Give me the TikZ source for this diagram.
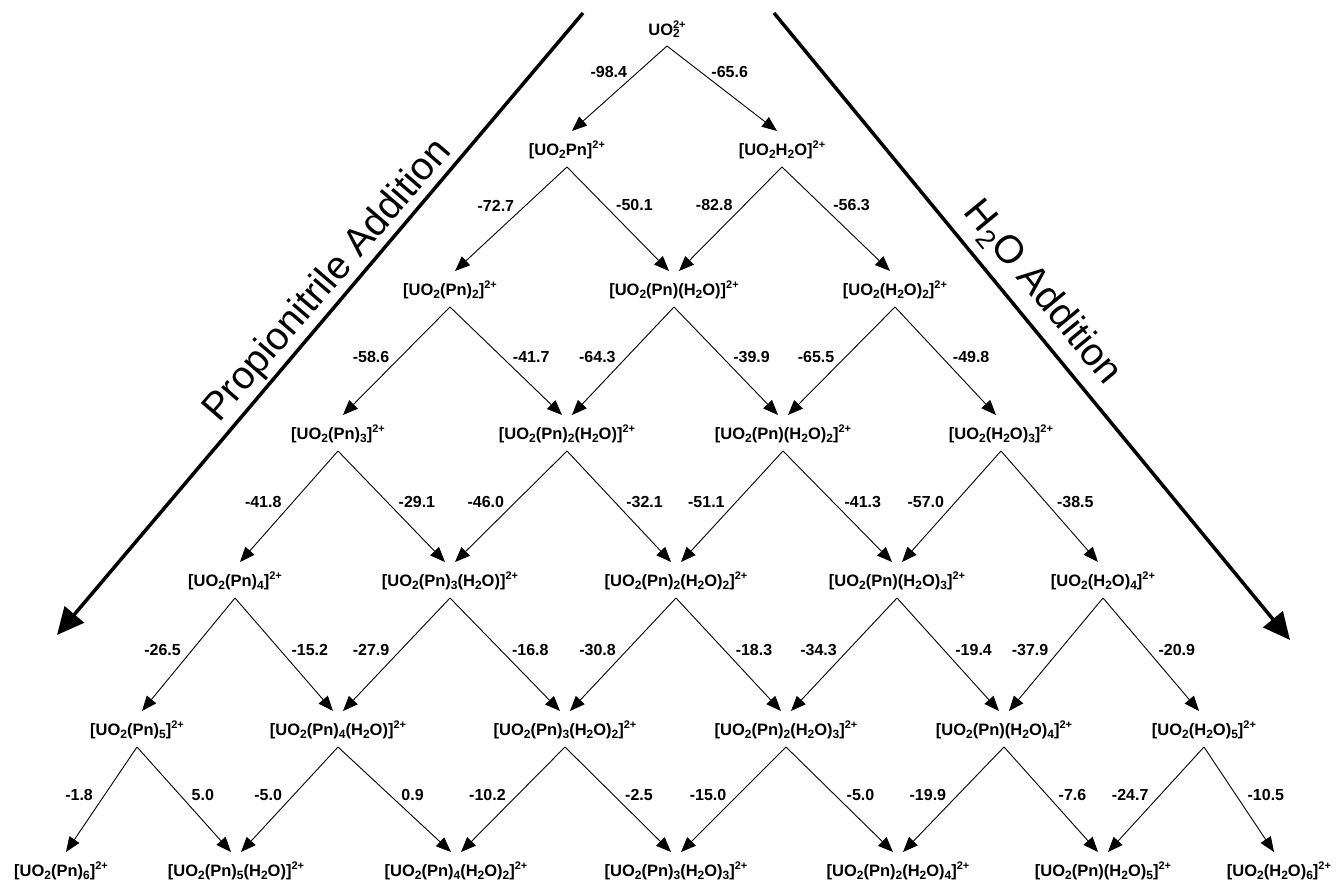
\documentclass[tikz,border=0pt]{standalone}
\usepackage{fontspec}
\setmainfont{Liberation Sans}
\usetikzlibrary{arrows.meta,calc}
\newcommand\sbs[1]{\raisebox{-0.3ex}{\fontsize{12}{13}\selectfont #1}}
\newcommand\sps[1]{\raisebox{0.8ex}{\fontsize{11}{12}\selectfont #1}}
\newcommand\cpd[1]{[UO\sbs{2}#1]\sps{2+}}
\newcommand\bigsub[1]{\raisebox{-0.35ex}{\fontsize{27}{30}\selectfont #1}}
\newcommand\edgeL[4]{\draw[rx] ($(#1)+(0,-17)$) -- node[en, pos=#4, anchor=east, xshift=-11pt] {#3} ($(#2)+(5,19)$);}
\newcommand\edgeR[4]{\draw[rx] ($(#1)+(0,-17)$) -- node[en, pos=#4, anchor=west, xshift=11pt] {#3} ($(#2)+(-5,19)$);}
\begin{document}
\begin{tikzpicture}[x=1pt,y=1pt,
  cmp/.style={font=\fontsize{16.5}{19}\selectfont\bfseries, inner sep=0pt},
  en/.style={font=\fontsize{16}{19}\selectfont\bfseries, inner sep=0pt},
  rx/.style={draw=black, line width=0.9pt, -{Triangle[length=15pt,width=12pt]}},
  big/.style={line width=3.5pt, -{Triangle[length=27pt,width=25pt]}},
  ttl/.style={font=\fontsize{39}{44}\selectfont, inner sep=0pt}]
\fill[white] (0,0) rectangle (1336,-885);
\useasboundingbox (0,0) rectangle (1336,-885);

% big arrows
\coordinate (pa) at (583,-13);
\coordinate (pb) at (57,-635);
\draw[big] (pa) -- (pb);
\coordinate (wa) at (774,-13);
\coordinate (wb) at (1290,-640);
\draw[big] (wa) -- (wb);
\node[ttl, rotate=49.3] (tp) at (328,-281) {Propionitrile Addition};
\node[ttl, rotate=-50.5] (tw) at (1042,-293) {H\bigsub{2}O Addition};

% compounds
\node[cmp] (n00) at (667,-29) {UO\rlap{\sbs{2}}\sps{2+}};
\node[cmp] (n10) at (567,-150) {[UO\sbs{2}Pn]\sps{2+}};
\node[cmp] (n11) at (782,-150) {[UO\sbs{2}H\sbs{2}O]\sps{2+}};
\node[cmp] (n20) at (450,-290) {\cpd{(Pn)\sbs{2}}};
\node[cmp] (n21) at (674,-290) {\cpd{(Pn)(H\sbs{2}O)}};
\node[cmp] (n22) at (895,-290) {\cpd{(H\sbs{2}O)\sbs{2}}};
\node[cmp] (n30) at (338,-434) {\cpd{(Pn)\sbs{3}}};
\node[cmp] (n31) at (567,-434) {\cpd{(Pn)\sbs{2}(H\sbs{2}O)}};
\node[cmp] (n32) at (783,-434) {\cpd{(Pn)(H\sbs{2}O)\sbs{2}}};
\node[cmp] (n33) at (1001,-434) {\cpd{(H\sbs{2}O)\sbs{3}}};
\node[cmp] (n40) at (235,-581) {\cpd{(Pn)\sbs{4}}};
\node[cmp] (n41) at (450,-581) {\cpd{(Pn)\sbs{3}(H\sbs{2}O)}};
\node[cmp] (n42) at (676,-581) {\cpd{(Pn)\sbs{2}(H\sbs{2}O)\sbs{2}}};
\node[cmp] (n43) at (897,-581) {\cpd{(Pn)(H\sbs{2}O)\sbs{3}}};
\node[cmp] (n44) at (1103,-581) {\cpd{(H\sbs{2}O)\sbs{4}}};
\node[cmp] (n50) at (137,-730) {\cpd{(Pn)\sbs{5}}};
\node[cmp] (n51) at (338,-730) {\cpd{(Pn)\sbs{4}(H\sbs{2}O)}};
\node[cmp] (n52) at (565,-730) {\cpd{(Pn)\sbs{3}(H\sbs{2}O)\sbs{2}}};
\node[cmp] (n53) at (786,-730) {\cpd{(Pn)\sbs{2}(H\sbs{2}O)\sbs{3}}};
\node[cmp] (n54) at (1004,-730) {\cpd{(Pn)(H\sbs{2}O)\sbs{4}}};
\node[cmp] (n55) at (1204,-730) {\cpd{(H\sbs{2}O)\sbs{5}}};
\node[cmp] (n60) at (61,-871) {\cpd{(Pn)\sbs{6}}};
\node[cmp] (n61) at (236,-871) {\cpd{(Pn)\sbs{5}(H\sbs{2}O)}};
\node[cmp] (n62) at (456,-871) {\cpd{(Pn)\sbs{4}(H\sbs{2}O)\sbs{2}}};
\node[cmp] (n63) at (676,-871) {\cpd{(Pn)\sbs{3}(H\sbs{2}O)\sbs{3}}};
\node[cmp] (n64) at (898,-871) {\cpd{(Pn)\sbs{2}(H\sbs{2}O)\sbs{4}}};
\node[cmp] (n65) at (1103,-871) {\cpd{(Pn)(H\sbs{2}O)\sbs{5}}};
\node[cmp] (n66) at (1279,-871) {\cpd{(H\sbs{2}O)\sbs{6}}};

% reactions
\edgeL{n00}{n10}{-98.4}{0.3}
\edgeR{n00}{n11}{-65.6}{0.3}
\edgeL{n10}{n20}{-72.7}{0.37}
\edgeR{n10}{n21}{-50.1}{0.37}
\edgeL{n11}{n21}{-82.8}{0.37}
\edgeR{n11}{n22}{-56.3}{0.37}
\edgeL{n20}{n30}{-58.6}{0.46}
\edgeR{n20}{n31}{-41.7}{0.46}
\edgeL{n21}{n31}{-64.3}{0.46}
\edgeR{n21}{n32}{-39.9}{0.46}
\edgeL{n22}{n32}{-65.5}{0.46}
\edgeR{n22}{n33}{-49.8}{0.46}
\edgeL{n30}{n40}{-41.8}{0.46}
\edgeR{n30}{n41}{-29.1}{0.46}
\edgeL{n31}{n41}{-46.0}{0.46}
\edgeR{n31}{n42}{-32.1}{0.46}
\edgeL{n32}{n42}{-51.1}{0.46}
\edgeR{n32}{n43}{-41.3}{0.46}
\edgeL{n33}{n43}{-57.0}{0.46}
\edgeR{n33}{n44}{-38.5}{0.46}
\edgeL{n40}{n50}{-26.5}{0.46}
\edgeR{n40}{n51}{-15.2}{0.46}
\edgeL{n41}{n51}{-27.9}{0.46}
\edgeR{n41}{n52}{-16.8}{0.46}
\edgeL{n42}{n52}{-30.8}{0.46}
\edgeR{n42}{n53}{-18.3}{0.46}
\edgeL{n43}{n53}{-34.3}{0.46}
\edgeR{n43}{n54}{-19.4}{0.46}
\edgeL{n44}{n54}{-37.9}{0.46}
\edgeR{n44}{n55}{-20.9}{0.46}
\edgeL{n50}{n60}{-1.8}{0.46}
\edgeR{n50}{n61}{5.0}{0.46}
\edgeL{n51}{n61}{-5.0}{0.46}
\edgeR{n51}{n62}{0.9}{0.46}
\edgeL{n52}{n62}{-10.2}{0.46}
\edgeR{n52}{n63}{-2.5}{0.46}
\edgeL{n53}{n63}{-15.0}{0.46}
\edgeR{n53}{n64}{-5.0}{0.46}
\edgeL{n54}{n64}{-19.9}{0.46}
\edgeR{n54}{n65}{-7.6}{0.46}
\edgeL{n55}{n65}{-24.7}{0.46}
\edgeR{n55}{n66}{-10.5}{0.46}
\end{tikzpicture}
\end{document}
